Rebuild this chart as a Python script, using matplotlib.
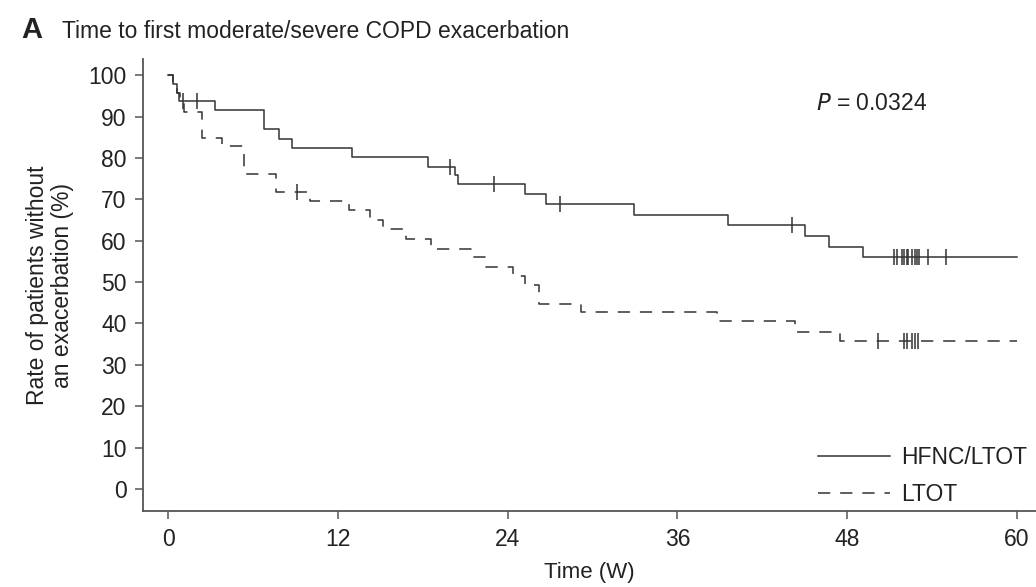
import matplotlib.pyplot as plt

plt.rcParams['font.family'] = ['Liberation Sans', 'DejaVu Sans']

# Kaplan-Meier step points (time in weeks, % without exacerbation)
hfnc_t = [0, 0.35, 0.6, 0.8, 3.32, 6.79, 7.85, 8.75, 13.0, 18.4, 20.3, 20.5,
          25.2, 26.7, 32.9, 39.6, 45.0, 46.7, 49.1, 60]
hfnc_s = [100, 97.8, 95.7, 93.8, 91.6, 86.9, 84.6, 82.4, 80.2, 77.9, 75.8, 73.6,
          71.2, 68.8, 66.3, 63.8, 61.1, 58.5, 56.0, 56.0]
hfnc_cens_t = [1.08, 2.03, 19.9, 23.0, 27.7, 44.1, 51.3, 51.5, 51.9, 52.0, 52.2,
               52.3, 52.6, 52.8, 52.9, 53.1, 53.7, 55.0]
hfnc_cens_s = [93.8, 93.8, 77.9, 73.6, 68.8, 63.8, 56.0, 56.0, 56.0, 56.0, 56.0,
               56.0, 56.0, 56.0, 56.0, 56.0, 56.0, 56.0]

ltot_t = [0, 0.35, 0.6, 0.85, 1.1, 2.4, 3.8, 5.4, 7.64, 10.0, 12.8, 14.3, 15.2,
          16.8, 18.6, 21.4, 22.5, 24.4, 25.2, 26.2, 29.2, 38.8, 44.3, 47.5, 60]
ltot_s = [100, 97.8, 95.6, 93.3, 91.1, 84.9, 82.8, 76.1, 71.7, 69.5, 67.3, 65.1,
          62.9, 60.3, 58.1, 56.0, 53.7, 51.5, 49.2, 44.8, 42.7, 40.5, 37.9, 35.7,
          35.7]
ltot_cens_t = [9.1, 50.2, 52.0, 52.2, 52.6, 52.8, 53.0]
ltot_cens_s = [71.7, 35.7, 35.7, 35.7, 35.7, 35.7, 35.7]

x_ticks = [0, 12, 24, 36, 48, 60]
y_ticks = [0, 10, 20, 30, 40, 50, 60, 70, 80, 90, 100]

line_col = '#333333'
axis_col = '#555555'
text_col = '#222222'

fig = plt.figure(figsize=(10.36, 5.87), dpi=100)
ax = fig.add_axes([0.1383, 0.129, 0.862, 0.7705])

ax.step(hfnc_t, hfnc_s, where='post', color=line_col, lw=1.1, label='HFNC/LTOT')
ax.step(ltot_t, ltot_s, where='post', color=line_col, lw=1.1,
        linestyle=(0, (8, 6.5)), label='LTOT')
ax.plot(hfnc_cens_t, hfnc_cens_s, linestyle='none', marker='|', markersize=12,
        markeredgewidth=1.1, color=line_col)
ax.plot(ltot_cens_t, ltot_cens_s, linestyle='none', marker='|', markersize=12,
        markeredgewidth=1.1, color=line_col)

ax.set_xlim(-1.75, 61.36)
ax.set_ylim(-5.4, 103.9)
ax.set_xticks(x_ticks)
ax.set_yticks(y_ticks)

for side in ['top', 'right']:
    ax.spines[side].set_visible(False)
for side in ['left', 'bottom']:
    ax.spines[side].set_color(axis_col)
    ax.spines[side].set_linewidth(1.3)
ax.tick_params(length=6, width=1.1, color=axis_col, labelsize=16.5,
               labelcolor=text_col, pad=6)

ax.set_xlabel('Time (W)', fontsize=16, color=text_col, labelpad=8)
ax.set_ylabel('Rate of patients without\nan exacerbation (%)', fontsize=16.5,
              color=text_col, labelpad=10, linespacing=1.15)

ax.text(45.8, 93.2, '$P$ = 0.0324', fontsize=16.5, color=text_col,
        ha='left', va='center')

fig.text(0.06, 0.947, 'Time to first moderate/severe COPD exacerbation',
         fontsize=16.5, color=text_col, ha='left', va='center')
fig.text(0.021, 0.949, 'A', fontsize=21, fontweight='bold', color=text_col,
         ha='left', va='center')

ax.legend(loc='lower right', bbox_to_anchor=(0.9947, 0.0013), frameon=False,
          fontsize=16.5, handlelength=3.1, handletextpad=0.5, labelspacing=0.62,
          labelcolor=text_col, borderaxespad=0.0, borderpad=0.2)

fig.savefig('out.png', dpi=100)
